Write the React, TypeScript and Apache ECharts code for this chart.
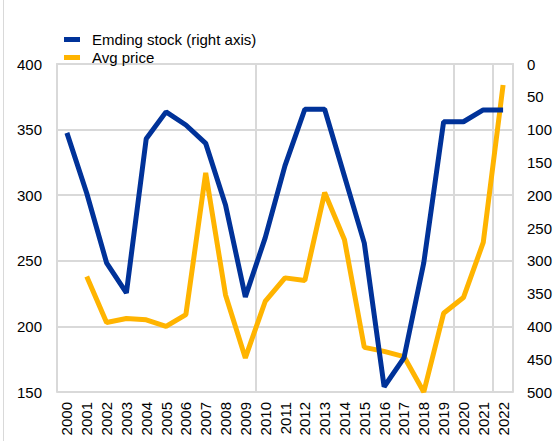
import React, { useEffect, useRef } from "react";
import * as echarts from "echarts";

const years = ["2000","2001","2002","2003","2004","2005","2006","2007","2008","2009","2010","2011","2012","2013","2014","2015","2016","2017","2018","2019","2020","2021","2022"];
const endingStock = [105, 197, 303, 349, 114, 73, 93, 121, 215, 355, 265, 155, 69, 69, 171, 273, 492, 448, 303, 88, 88, 70, 70];
const avgPrice = [null, 238, 203, 206, 205, 200, 209, 317, 224, 176, 219, 237, 235, 302, 266, 184, 181, 177, 150, 210, 222, 264, 384];
const seriesNames = ["Emding stock (right axis)", "Avg price"];

export default function App() {
  const ref = useRef<HTMLDivElement>(null);
  useEffect(() => {
    if (!ref.current) return;
    const chart = echarts.init(ref.current, null, { renderer: "svg" });
    const font = "Liberation Sans, Arial, sans-serif";
    const grey = "#d9d9d9";
    chart.setOption({
      animation: false,
      backgroundColor: "#ffffff",
      textStyle: { fontFamily: font },
      grid: { left: 57, right: 44, top: 64, bottom: 49, containLabel: false },
      legend: {
        orient: "vertical",
        left: 59,
        top: 27,
        itemGap: 3,
        itemWidth: 16,
        itemHeight: 5,
        icon: "rect",
        textStyle: { fontSize: 15, color: "#000", fontFamily: font, padding: [0, 0, 0, 7] },
        data: seriesNames,
      },
      graphic: [
        { type: "line", shape: { x1: 3.5, y1: 0, x2: 3.5, y2: 441 }, style: { stroke: grey, lineWidth: 1 } },
      ],
      xAxis: {
        type: "category",
        data: years,
        boundaryGap: true,
        axisLine: { show: true, lineStyle: { color: grey, width: 2 } },
        axisTick: { show: false },
        axisLabel: { rotate: 90, fontSize: 15, color: "#000", fontFamily: font, interval: 0, margin: 10 },
        splitLine: { show: true, interval: 9, lineStyle: { color: grey, width: 2 } },
      },
      yAxis: [
        {
          type: "value",
          min: 150,
          max: 400,
          interval: 50,
          position: "left",
          axisLine: { show: true, lineStyle: { color: grey, width: 2 } },
          axisTick: { show: false },
          axisLabel: { fontSize: 15, color: "#000", fontFamily: font, margin: 15 },
          splitLine: { show: true, lineStyle: { color: grey, width: 2 } },
        },
        {
          type: "value",
          min: 0,
          max: 500,
          interval: 50,
          inverse: true,
          position: "right",
          axisLine: { show: true, lineStyle: { color: grey, width: 2 } },
          axisTick: { show: false },
          axisLabel: { fontSize: 15, color: "#000", fontFamily: font, margin: 14 },
          splitLine: { show: false },
        },
      ],
      series: [
        {
          name: seriesNames[0],
          type: "line",
          yAxisIndex: 1,
          data: endingStock,
          symbol: "none",
          lineStyle: { color: "#003299", width: 5 },
          itemStyle: { color: "#003299" },
          z: 3,
        },
        {
          name: seriesNames[1],
          type: "line",
          yAxisIndex: 0,
          data: avgPrice,
          symbol: "none",
          lineStyle: { color: "#FFB400", width: 5 },
          itemStyle: { color: "#FFB400" },
          z: 2,
        },
      ],
    });
    return () => chart.dispose();
  }, []);
  return <div ref={ref} style={{ width: 557, height: 441, position: "absolute", left: 0, top: 0 }} />;
}
